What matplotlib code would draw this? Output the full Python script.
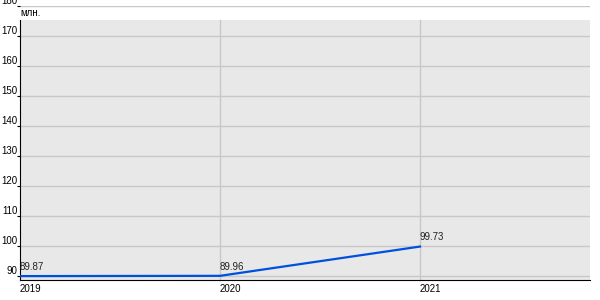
import matplotlib
matplotlib.use("Agg")
import matplotlib.pyplot as plt

years = [2019, 2020, 2021]
values = [89.87, 89.96, 99.73]
yticks = [90, 100, 110, 120, 130, 140, 150, 160, 170, 180]
unit = "млн."

plt.rcParams['font.family'] = ['Liberation Sans', 'DejaVu Sans']

fig = plt.figure(figsize=(6, 3), dpi=100)
ax = fig.add_axes([20 / 600, 20 / 300, 570 / 600, 274 / 300])
ax.set_facecolor('white')

ymin, ymax, ytop = 88.57, 180, 175.33
ax.set_ylim(ymin, ymax)
ax.set_xlim(2019, 2021.85)

# gray plot area stops below the unit label
ax.axhspan(ymin, ytop, color='#e8e8e8', zorder=0, lw=0)

for y in yticks:
    ax.axhline(y, color='#c8c8c8', lw=1, zorder=1)
for x in years[1:]:
    ax.plot([x, x], [ymin, ytop], color='#c8c8c8', lw=1, zorder=1)

ax.plot(years, values, color='#0050e0', lw=1.6, zorder=3)
for x, v in zip(years, values):
    ax.annotate(f"{v:.2f}", (x, v), xytext=(0, 3), textcoords='offset points',
                ha='left', va='bottom', fontsize=7, color='#222222', zorder=4)

ax.set_yticks(yticks)
ax.set_yticklabels([str(t) for t in yticks])
ax.tick_params(axis='y', length=2, pad=0, labelsize=7, colors='black')
for lbl in ax.get_yticklabels():
    lbl.set_va('bottom')

ax.set_xticks(years)
ax.set_xticklabels([str(y) for y in years])
ax.tick_params(axis='x', length=0, pad=3, labelsize=7)
for lbl in ax.get_xticklabels():
    lbl.set_ha('left')

for s in ['top', 'right']:
    ax.spines[s].set_visible(False)
ax.spines['left'].set_bounds(ymin, ytop)
ax.spines['left'].set_color('black')
ax.spines['bottom'].set_color('black')

fig.text(20 / 600, 1 - 13 / 300, unit, fontsize=7, ha='left', va='center')

fig.savefig("out.png", dpi=100)
